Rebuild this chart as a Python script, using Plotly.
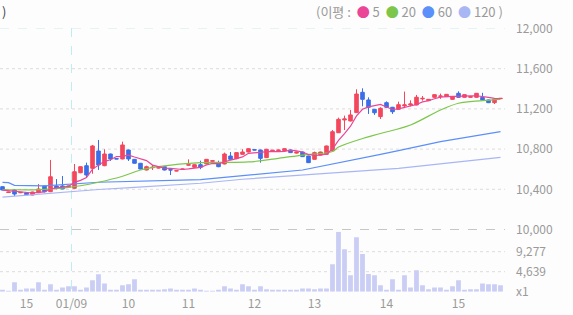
import plotly.graph_objects as go

W, H = 573, 315

# ---------------- data ----------------
opens = [10426, 10368, 10393, 10366, 10366, 10343, 10366, 10433, 10376, 10433,
         10433, 10420, 10410, 10565, 10635, 10609, 10781, 10635, 10751, 10705,
         10702, 10791, 10698, 10659, 10592, 10615, 10612, 10625, 10595, 10582,
         10598, 10640, 10619, 10645, 10652, 10678, 10665, 10652, 10731, 10705,
         10748, 10771, 10794, 10791, 10715, 10782, 10785, 10784, 10791, 10760,
         10771, 10731, 10698, 10741, 10748, 10784, 10963, 11090, 11080, 11163,
         11365, 11289, 11196, 11123, 11262, 11216, 11196, 11230, 11239, 11239,
         11300, 11282, 11315, 11325, 11322, 11295, 11355, 11315, 11315, 11315,
         11315, 11289, 11262, 11302]
highs = [10430, 10375, 10400, 10372, 10370, 10376, 10453, 10436, 10692, 10502,
         10532, 10436, 10652, 10628, 10665, 10841, 10891, 10798, 10755, 10708,
         10874, 10795, 10702, 10662, 10635, 10642, 10620, 10628, 10598, 10590,
         10605, 10698, 10648, 10685, 10700, 10688, 10685, 10765, 10771, 10768,
         10798, 10808, 10796, 10795, 10802, 10790, 10795, 10808, 10795, 10775,
         10775, 10735, 10775, 10775, 10835, 10990, 11113, 11133, 11189, 11395,
         11405, 11315, 11199, 11216, 11275, 11220, 11272, 11372, 11285, 11339,
         11328, 11298, 11345, 11352, 11348, 11325, 11375, 11345, 11325, 11358,
         11360, 11292, 11298, 11308]
lows = [10390, 10365, 10333, 10362, 10343, 10340, 10362, 10370, 10373, 10400,
        10403, 10416, 10406, 10560, 10515, 10555, 10593, 10630, 10682, 10700,
        10698, 10682, 10655, 10598, 10588, 10592, 10608, 10588, 10542, 10580,
        10595, 10635, 10615, 10600, 10648, 10675, 10620, 10648, 10695, 10700,
        10745, 10768, 10788, 10665, 10712, 10780, 10782, 10780, 10762, 10755,
        10722, 10662, 10695, 10738, 10745, 10780, 10960, 10990, 11075, 11160,
        11226, 11150, 11140, 11100, 11210, 11150, 11192, 11216, 11225, 11235,
        11282, 11278, 11312, 11300, 11318, 11292, 11312, 11312, 11312, 11312,
        11286, 11258, 11249, 11298]
closes = [10393, 10372, 10353, 10370, 10346, 10373, 10403, 10376, 10525, 10410,
          10403, 10433, 10575, 10625, 10542, 10831, 10642, 10751, 10702, 10702,
          10841, 10702, 10659, 10602, 10625, 10619, 10615, 10592, 10592, 10585,
          10602, 10645, 10645, 10619, 10698, 10685, 10625, 10751, 10698, 10765,
          10771, 10804, 10791, 10708, 10798, 10788, 10790, 10804, 10765, 10770,
          10725, 10665, 10765, 10771, 10831, 10973, 11096, 11100, 11140, 11348,
          11295, 11216, 11162, 11206, 11216, 11172, 11242, 11240, 11249, 11316,
          11305, 11295, 11342, 11328, 11345, 11322, 11315, 11342, 11322, 11355,
          11289, 11262, 11295, 11305]
volumes = [310, 150, 2165, 460, 770, 770, 2165, 310, 1700, 460,
           1000, 1240, 1240, 460, 1000, 2630, 4020, 1930, 460, 310,
           1470, 1700, 2860, 460, 310, 310, 310, 540, 770, 310,
           310, 310, 770, 310, 150, 150, 460, 1240, 770, 310,
           1700, 1240, 310, 1240, 540, 310, 310, 310, 310, 310,
           770, 770, 540, 770, 770, 6340, 13916, 9820, 3790, 12600,
           8735, 4100, 3790, 1470, 310, 2860, 460, 3790, 1000, 4950,
           1470, 540, 1000, 1000, 310, 1240, 2630, 310, 540, 540,
           1930, 1700, 1700, 1470]

ma5 = [10392, 10385, 10378, 10372, 10367, 10363, 10369, 10374, 10405, 10417,
       10423, 10429, 10469, 10489, 10516, 10601, 10643, 10678, 10694, 10726,
       10728, 10740, 10721, 10701, 10686, 10641, 10624, 10611, 10609, 10601,
       10597, 10603, 10614, 10619, 10642, 10658, 10654, 10676, 10691, 10705,
       10722, 10758, 10766, 10768, 10774, 10778, 10775, 10778, 10789, 10783,
       10771, 10746, 10738, 10739, 10751, 10801, 10887, 10954, 11028, 11131,
       11196, 11220, 11232, 11245, 11219, 11194, 11200, 11215, 11224, 11244,
       11270, 11281, 11301, 11317, 11323, 11326, 11330, 11330, 11329, 11331,
       11325, 11314, 11305, 11301]
ma20_idx = [0, 6, 11, 13, 16, 20, 23, 26, 33, 41, 46, 50, 55, 56, 60, 63, 68, 73, 76, 80, 83]
ma20 = [10398, 10396, 10420, 10435, 10470, 10530, 10592, 10625, 10665, 10672, 10708,
        10741, 10776, 10820, 10905, 10955, 11040, 11189, 11256, 11282, 11298]
ma60_idx = [0, 1, 2, 7, 16, 28, 33, 50, 58, 63, 66, 73, 83]
ma60 = [10468, 10466, 10440, 10435, 10470, 10486, 10497, 10592, 10692, 10748, 10784, 10874, 10973]
ma120_idx = [0, 11, 16, 22, 33, 40, 63, 66, 83]
ma120 = [10322, 10375, 10398, 10420, 10460, 10500, 10592, 10609, 10718]

tick_pos = [4, 11.5, 21, 31, 42, 52, 64, 76]
tick_text = ["15", "01/09", "10", "11", "12", "13", "14", "15"]
day_break = 11.5
price_ticks = [10000, 10400, 10800, 11200, 11600, 12000]
vol_max = 13916
vol_ticks = [0, 4639, 9277]
vol_tick_text = ["x1", "4,639", "9,277"]

# ---------------- styling ----------------
UP = "#f4475c"
DOWN = "#3a6fe8"
C5, C20, C60, C120 = "#ea4596", "#7dc64c", "#5b8ff9", "#a9b6f4"
VOLC = "#cacef5"
FONT = "Noto Sans CJK KR, Noto Sans, sans-serif"
GRAY = "#9a9a9a"

x = list(range(len(closes)))
PLOT_R = 505 / W

def py(pix):  # pixel from top -> paper
    return 1 - pix / H

fig = go.Figure()
fig.add_trace(go.Bar(x=x, y=volumes, yaxis="y2", width=0.8,
                     marker=dict(color=VOLC, line=dict(width=0)), hoverinfo="skip"))
fig.add_trace(go.Scatter(x=ma120_idx, y=ma120, mode="lines", line=dict(color=C120, width=1.2), hoverinfo="skip"))
fig.add_trace(go.Scatter(x=ma60_idx, y=ma60, mode="lines", line=dict(color=C60, width=1.2), hoverinfo="skip"))
fig.add_trace(go.Scatter(x=ma20_idx, y=ma20, mode="lines", line=dict(color=C20, width=1.2, shape="spline"), hoverinfo="skip"))
fig.add_trace(go.Scatter(x=x, y=ma5, mode="lines", line=dict(color=C5, width=1.2), hoverinfo="skip"))
fig.add_trace(go.Candlestick(x=x, open=opens, high=highs, low=lows, close=closes,
                             increasing=dict(line=dict(color=UP, width=1), fillcolor=UP),
                             decreasing=dict(line=dict(color=DOWN, width=1), fillcolor=DOWN),
                             whiskerwidth=0, hoverinfo="skip"))

shapes = []
for p in [10400, 10800, 11200, 11600]:
    shapes.append(dict(type="line", xref="paper", yref="y", x0=0, x1=PLOT_R, y0=p, y1=p,
                       line=dict(color="#dcdcdc", width=1, dash="dot"), layer="below"))
shapes.append(dict(type="line", xref="paper", yref="y", x0=0, x1=PLOT_R, y0=12000, y1=12000,
                   line=dict(color="#cde9ec", width=1, dash="dash"), layer="below"))
shapes.append(dict(type="line", xref="paper", yref="y", x0=0, x1=PLOT_R, y0=10000, y1=10000,
                   line=dict(color="#8f8f8f", width=1, dash="dash"), layer="below"))
for v in vol_ticks[1:]:
    shapes.append(dict(type="line", xref="paper", yref="y2", x0=0, x1=PLOT_R, y0=v, y1=v,
                       line=dict(color="#dcdcdc", width=1, dash="dot"), layer="below"))
shapes.append(dict(type="line", xref="x", yref="paper", x0=day_break, x1=day_break,
                   y0=py(289), y1=py(28), line=dict(color="#bdeef2", width=1, dash="dash"), layer="below"))

legend_text = ("(이평 :  <span style='color:%s'>●</span> 5  <span style='color:%s'>●</span> 20  "
               "<span style='color:%s'>●</span> 60  <span style='color:%s'>●</span> 120 )") % (C5, C20, C60, C120)

fig.update_layout(
    width=W, height=H, margin=dict(l=0, r=0, t=0, b=0, autoexpand=False),
    paper_bgcolor="#fdfdfd", plot_bgcolor="rgba(0,0,0,0)",
    showlegend=False, boxgap=0.15, bargap=0.2,
    font=dict(family=FONT, size=12, color=GRAY),
    xaxis=dict(domain=[0, PLOT_R], range=[-0.417, 83.75], anchor="y2", automargin=False,
               tickmode="array", tickvals=tick_pos, ticktext=tick_text,
               showgrid=False, zeroline=False, showline=False, ticks="",
               ticklabelstandoff=3,
               rangeslider=dict(visible=False), tickfont=dict(size=12, color=GRAY)),
    yaxis=dict(domain=[py(229.5), py(28.5)], range=[10000, 12000], side="right",
               anchor="x", tickmode="array", tickvals=price_ticks, tickformat=",d",
               showgrid=False, zeroline=False, showline=False, ticks="", automargin=False,
               ticklabelstandoff=10, tickfont=dict(size=12, color=GRAY)),
    yaxis2=dict(domain=[py(291.7), py(231.7)], range=[0, vol_max], side="right",
                anchor="x", tickmode="array", tickvals=vol_ticks, ticktext=vol_tick_text,
                showgrid=False, zeroline=False, showline=False, ticks="", automargin=False,
                ticklabelstandoff=10, tickfont=dict(size=12, color=GRAY)),
    shapes=shapes,
    annotations=[
        dict(xref="paper", yref="paper", x=PLOT_R, y=py(12), xanchor="right", yanchor="middle",
             text=legend_text, showarrow=False, font=dict(size=13, color=GRAY, family=FONT)),
        dict(xref="paper", yref="paper", x=0, y=py(12), xanchor="left", yanchor="middle",
             text=")", showarrow=False, font=dict(size=13, color="#444", family=FONT)),
    ],
)

fig.write_html("out.html")
